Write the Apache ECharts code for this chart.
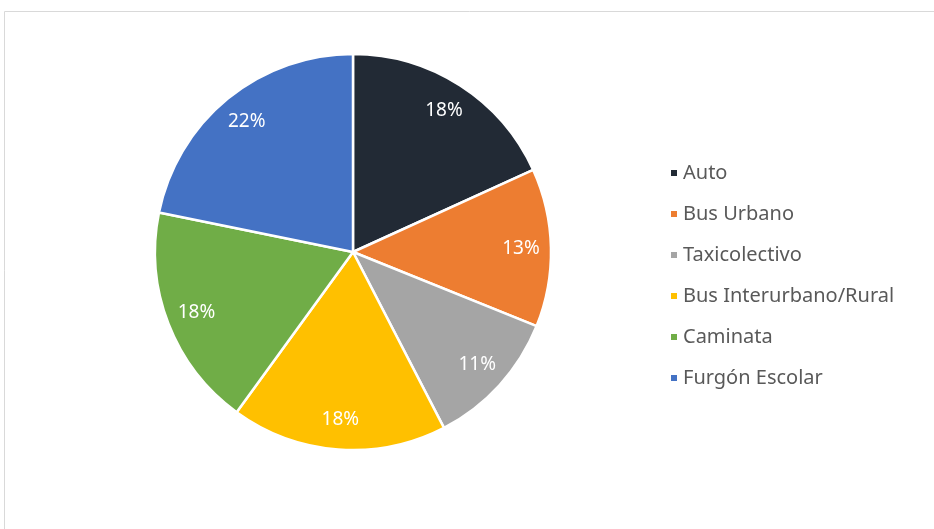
<!DOCTYPE html>
<html>
<head>
<meta charset="utf-8">
<script src="https://cdn.jsdelivr.net/npm/echarts@6/dist/echarts.min.js"></script>
<style>
  html, body { margin: 0; padding: 0; background: #fff; }
  #chart { width: 934px; height: 529px; }
</style>
</head>
<body>
<div id="chart"></div>
<script>
  // modos de transporte
  var categorias = ['Auto', 'Bus Urbano', 'Taxicolectivo', 'Bus Interurbano/Rural', 'Caminata', 'Furgón Escolar'];
  var valores = [18.2, 12.9, 11.3, 17.6, 18.2, 21.8];
  var colores = ['#222a35', '#ed7d31', '#a5a5a5', '#ffc000', '#70ad47', '#4472c4'];

  var datos = categorias.map(function (c, i) {
    return { name: c, value: valores[i], itemStyle: { color: colores[i] } };
  });
  var etiquetas = categorias.map(function (c, i) {
    return { name: c, value: valores[i] };
  });

  var myChart = echarts.init(document.getElementById('chart'));
  myChart.setOption({
    animation: false,
    color: colores,
    graphic: [{
      type: 'rect',
      silent: true,
      shape: { x: 4.5, y: 11.5, width: 960, height: 540 },
      style: { fill: 'none', stroke: '#d9d9d9', lineWidth: 1 }
    }],
    legend: {
      orient: 'vertical',
      left: 664,
      top: 158,
      data: categorias,
      icon: 'rect',
      itemWidth: 8,
      itemHeight: 8,
      itemGap: 21,
      selectedMode: false,
      textStyle: {
        color: '#595959',
        fontSize: 20,
        lineHeight: 20,
        fontFamily: 'Noto Sans'
      }
    },
    series: [{
      type: 'pie',
      center: [353, 252],
      radius: [0, 198],
      startAngle: 90,
      clockwise: true,
      silent: true,
      label: { show: false },
      labelLine: { show: false },
      itemStyle: { borderColor: '#fff', borderWidth: 2.5 },
      data: datos
    }, {
      // solo para las etiquetas de porcentaje
      type: 'pie',
      center: [353, 252],
      radius: [132, 198],
      startAngle: 90,
      clockwise: true,
      silent: true,
      itemStyle: { color: 'rgba(0,0,0,0)' },
      label: {
        show: true,
        position: 'inside',
        color: '#fff',
        fontSize: 19,
        fontFamily: 'Noto Sans',
        formatter: function (p) { return Math.round(p.percent) + '%'; }
      },
      labelLine: { show: false },
      data: etiquetas
    }]
  });
</script>
</body>
</html>
